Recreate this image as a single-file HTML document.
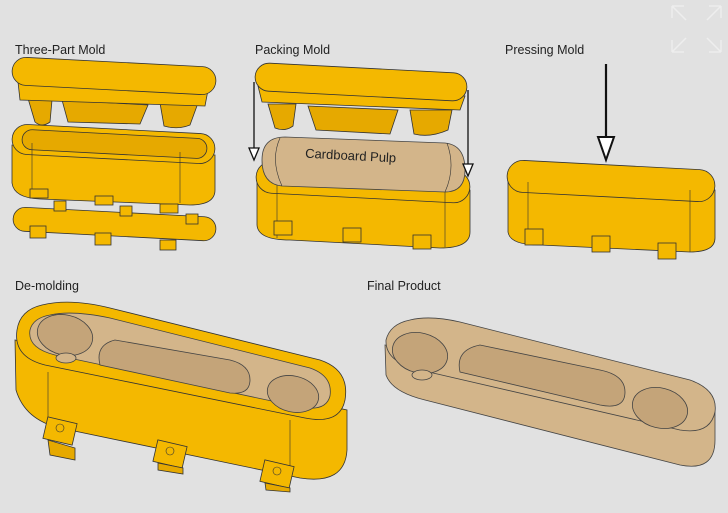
<!DOCTYPE html>
<html><head><style>
html,body{margin:0;padding:0;background:#e1e1e1;}
svg{display:block}
text{font-family:"Liberation Sans",sans-serif;font-size:12.5px;fill:#222}
.y{fill:#f4b800;stroke:#333;stroke-width:0.8}
.yd{fill:#e6a900;stroke:#333;stroke-width:0.8}
.t{fill:#d3b58a;stroke:#444;stroke-width:0.8}
.td{fill:#c4a479;stroke:#444;stroke-width:0.8}
.l{fill:none;stroke:#333;stroke-width:0.6}
</style></head><body>
<svg width="728" height="513" viewBox="0 0 728 513">
<rect width="728" height="513" fill="#e1e1e1"/>
<g stroke="#fff" stroke-width="1.5" fill="none" opacity="0.45">
<path d="M672 6 L684 6 M672 6 L672 18 M672 6 L686 20 M721 6 L709 6 M721 6 L721 18 M721 6 L707 20 M672 52 L684 52 M672 52 L672 40 M672 52 L686 38 M721 52 L709 52 M721 52 L721 40 M721 52 L707 38"/>
</g>
<text x="15" y="54">Three-Part Mold</text>
<text x="255" y="54">Packing Mold</text>
<text x="505" y="54">Pressing Mold</text>
<text x="15" y="290">De-molding</text>
<text x="367" y="290">Final Product</text>

<path class="yd" d="M27 95 L35 122 Q42 128 50 122 L52 100 Z"/>
<path class="yd" d="M62 100 L68 122 L140 124 L148 105 Z"/>
<path class="yd" d="M160 103 L164 126 Q178 130 190 125 L198 103 Z"/>
<path class="y" d="M18 82 L20 100 L205 106 L208 90 Z"/>
<rect class="y" x="12" y="62" width="204" height="28" rx="14" transform="rotate(3 114 76)"/>
<path class="y" d="M12 145 L12 183 Q14 198 40 199 L190 205 Q215 205 215 190 L215 155 Z"/>
<rect class="y" x="12" y="129" width="203" height="30" rx="15" transform="rotate(3 113 144)"/>
<rect class="yd" x="22" y="134" width="185" height="20" rx="10" transform="rotate(3 113 144)"/>
<path class="l" d="M32 143 L32 196 M180 152 L180 203"/>
<rect class="y" x="30" y="189" width="18" height="9"/><rect class="y" x="95" y="196" width="18" height="9"/><rect class="y" x="160" y="204" width="18" height="9"/>
<rect class="y" x="13" y="212" width="203" height="24" rx="12" transform="rotate(3 114 224)"/>
<rect class="y" x="54" y="201" width="12" height="10"/><rect class="y" x="120" y="206" width="12" height="10"/><rect class="y" x="186" y="214" width="12" height="10"/>
<rect class="y" x="30" y="226" width="16" height="12"/><rect class="y" x="95" y="233" width="16" height="12"/><rect class="y" x="160" y="240" width="16" height="10"/>

<path class="yd" d="M268 104 L275 128 Q285 132 293 126 L296 104 Z"/>
<path class="yd" d="M308 106 L316 130 L390 134 L398 110 Z"/>
<path class="yd" d="M410 110 L414 134 Q430 138 448 130 L452 110 Z"/>
<path class="y" d="M258 86 L262 102 L460 110 L465 96 Z"/>
<rect class="y" x="255" y="68" width="212" height="28" rx="14" transform="rotate(3 361 82)"/>
<path class="y" d="M257 180 L257 225 Q258 240 290 240 L440 248 Q470 248 470 232 L470 190 Z"/>
<rect class="y" x="256" y="166" width="214" height="32" rx="16" transform="rotate(3 363 182)"/>
<path class="l" d="M277 182 L277 238 M445 190 L445 247"/>
<rect class="y" x="274" y="221" width="18" height="14"/><rect class="y" x="343" y="228" width="18" height="14"/><rect class="y" x="413" y="235" width="18" height="14"/>
<path class="t" d="M262 160 Q262 137 285 137 L445 143 Q465 145 465 170 Q465 192 445 192 L282 186 Q262 184 262 160 Z"/>
<path class="l" d="M280 138 Q270 160 282 186 M447 143 Q456 168 445 192"/>
<text x="305" y="160" transform="rotate(3 350 158)" style="font-size:13px">Cardboard Pulp</text>
<path d="M254 82 L254 148" stroke="#111" stroke-width="1.3"/><path d="M249 148 L259 148 L254 160 Z" fill="#fff" stroke="#111" stroke-width="1.3"/>
<path d="M468 90 L468 164" stroke="#111" stroke-width="1.3"/><path d="M463 164 L473 164 L468 176 Z" fill="#fff" stroke="#111" stroke-width="1.3"/>

<path d="M606 64 L606 138" stroke="#111" stroke-width="2.2"/><path d="M598 137 L614 137 L606 160 Z" fill="#fff" stroke="#111" stroke-width="2"/>
<path class="y" d="M508 180 L508 232 Q510 245 540 245 L690 252 Q715 252 715 238 L715 190 Z"/>
<rect class="y" x="507" y="165" width="208" height="32" rx="16" transform="rotate(3 611 181)"/>
<path class="l" d="M528 182 L528 243 M690 190 L690 252"/>
<rect class="y" x="525" y="229" width="18" height="16"/><rect class="y" x="592" y="236" width="18" height="16"/><rect class="y" x="658" y="243" width="18" height="16"/>

<g>
<path class="y" d="M15 340 L16 390 Q25 420 60 428 L300 478 Q345 485 347 450 L347 410 Z"/>
<path class="y" d="M42 305 Q70 298 110 308 L320 360 Q350 370 345 400 Q340 425 305 418 L45 365 Q13 357 17 330 Q20 310 42 305 Z"/>
<path class="t" d="M50 315 Q72 310 110 318 L310 368 Q333 376 330 396 Q326 412 300 407 L55 355 Q27 348 30 330 Q33 318 50 315 Z"/>
<ellipse class="td" cx="65" cy="335" rx="28" ry="20" transform="rotate(13 65 335)"/>
<ellipse class="t" cx="66" cy="358" rx="10" ry="5"/>
<path class="td" d="M115 340 Q95 345 100 365 L230 393 Q250 395 250 380 Q250 365 230 360 Z"/>
<ellipse class="td" cx="293" cy="394" rx="26" ry="18" transform="rotate(13 293 394)"/>
<path class="l" d="M48 372 L48 425 M290 420 L290 480"/>
<g class="y"><rect x="45" y="420" width="30" height="22" transform="rotate(13 60 431)"/><rect x="155" y="443" width="30" height="22" transform="rotate(13 170 454)"/><rect x="262" y="463" width="30" height="22" transform="rotate(13 277 474)"/></g>
<circle class="l" cx="60" cy="428" r="4"/><circle class="l" cx="170" cy="451" r="4"/><circle class="l" cx="277" cy="471" r="4"/>
<path class="yd" d="M48 440 L50 455 L75 460 L75 448 Z M158 463 L158 470 L183 474 L183 468 Z M265 483 L266 490 L290 492 L290 488Z"/>
</g>

<path class="t" d="M385 345 L386 375 Q392 392 425 400 L680 465 Q715 472 715 440 L715 410 Z"/>
<path class="t" d="M410 320 Q430 315 460 322 L690 380 Q718 390 715 412 Q710 435 680 430 L420 370 Q385 362 386 340 Q390 324 410 320 Z"/>
<ellipse class="td" cx="420" cy="353" rx="28" ry="20" transform="rotate(14 420 353)"/>
<ellipse class="t" cx="422" cy="375" rx="10" ry="5"/>
<path class="td" d="M480 345 Q455 350 460 372 L600 405 Q625 410 625 392 Q625 375 600 370 Z"/>
<ellipse class="td" cx="660" cy="408" rx="28" ry="20" transform="rotate(14 660 408)"/>
</svg>
</body></html>
